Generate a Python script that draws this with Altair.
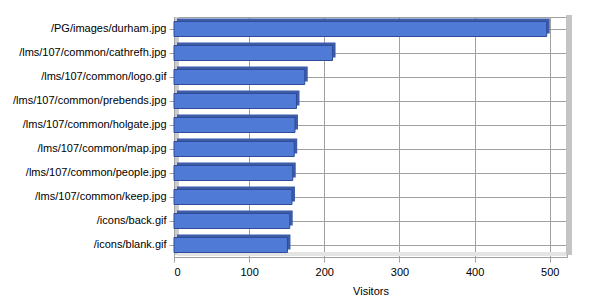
import altair as alt
import pandas as pd

files = [
    "/PG/images/durham.jpg",
    "/lms/107/common/cathrefh.jpg",
    "/lms/107/common/logo.gif",
    "/lms/107/common/prebends.jpg",
    "/lms/107/common/holgate.jpg",
    "/lms/107/common/map.jpg",
    "/lms/107/common/people.jpg",
    "/lms/107/common/keep.jpg",
    "/icons/back.gif",
    "/icons/blank.gif",
]
visitors = [496, 211, 174, 163, 161, 160, 158, 157, 154, 151]
x_ticks = [0, 100, 200, 300, 400, 500]

df = pd.DataFrame({"file": files, "visitors": visitors})

FONT = "Liberation Sans"
W, H = 393, 240

x_enc = alt.X(
    "visitors:Q",
    scale=alt.Scale(domain=[0, 523], nice=False, zero=True),
    axis=alt.Axis(
        values=x_ticks,
        title="Visitors",
        grid=True,
        gridColor="#a0a0a0",
        domainColor="#a0a0a0",
        tickColor="#a0a0a0",
        tickSize=5,
        labelPadding=4,
        labelFont=FONT,
        labelFontSize=11,
        labelColor="#000000",
        titleFont=FONT,
        titleFontSize=11,
        titleFontWeight="normal",
        titleColor="#000000",
        titlePadding=8,
    ),
)
y_enc = alt.Y(
    "file:N",
    sort=files,
    scale=alt.Scale(paddingInner=0.375, paddingOuter=0.1875),
    axis=alt.Axis(
        title=None,
        grid=True,
        gridColor="#a0a0a0",
        domainColor="#a0a0a0",
        tickColor="#a0a0a0",
        tickSize=5,
        labelPadding=3,
        labelFont=FONT,
        labelFontSize=11,
        labelColor="#000000",
    ),
)

base = alt.Chart(df)

shadow = base.mark_bar(
    color="#3d5ca8", xOffset=3, yOffset=-3, size=15
).encode(x=x_enc, y=y_enc)

front = base.mark_bar(
    color="#4f7ad6", stroke="#2f4c9c", strokeWidth=1, size=15
).encode(x=x_enc, y=y_enc)

right_wall = base.mark_rule(color="#c4c4c4", strokeWidth=5).encode(
    x=alt.value(W + 2), y=alt.value(-2), y2=alt.value(H - 2)
)
floor = base.mark_rule(color="#e4e4e4", strokeWidth=4).encode(
    x=alt.value(3), x2=alt.value(W), y=alt.value(H - 3)
)
left_wall = base.mark_rule(color="#cccccc", strokeWidth=4).encode(
    x=alt.value(3), y=alt.value(0), y2=alt.value(H - 2)
)

chart = (
    alt.layer(left_wall, floor, right_wall, shadow, front)
    .properties(
        width=W,
        height=H,
        padding={"left": 174, "top": 17, "right": 33, "bottom": 43},
        autosize=alt.AutoSizeParams(type="none"),
        background="#ffffff",
    )
    .configure_view(stroke="#a0a0a0", strokeWidth=1)
)

chart.save("out.html", embed_options={"renderer": "svg", "actions": False})
